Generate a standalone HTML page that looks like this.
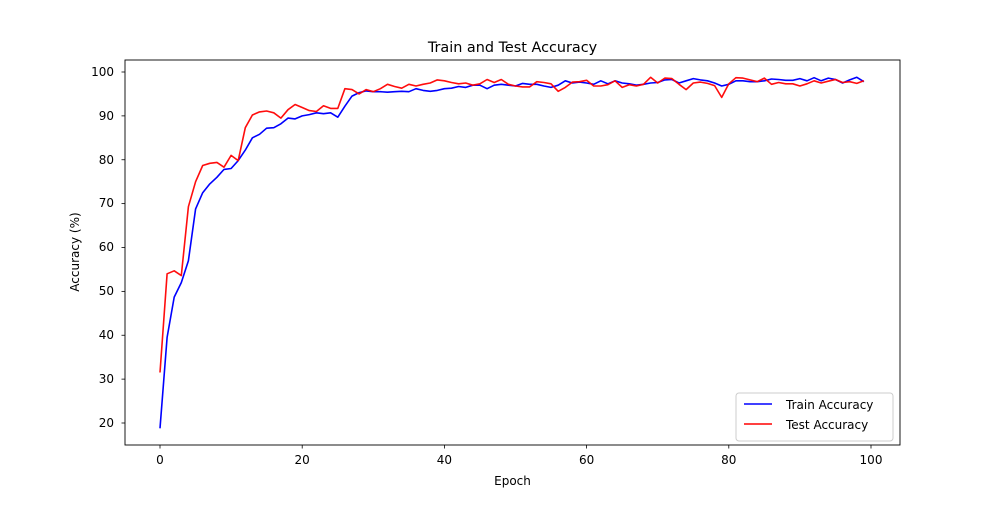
<!DOCTYPE html>
<html><head><meta charset="utf-8"><style>
html,body{margin:0;padding:0;background:#fff}
svg text{font-family:"DejaVu Sans","Liberation Sans",sans-serif;fill:#000}
</style></head><body>
<svg id="s" width="1000" height="500" xmlns="http://www.w3.org/2000/svg">
<rect width="1000" height="500" fill="#fff"/>
<text x="512.5" y="52" font-size="14.4" text-anchor="middle">Train and Test Accuracy</text>
<g id="ticks" font-size="12"></g>
<polyline id="tr" fill="none" stroke="#0000ff" stroke-width="1.6" stroke-linejoin="round"/>
<polyline id="te" fill="none" stroke="#ff0000" stroke-width="1.6" stroke-linejoin="round" opacity="0.95"/>
<rect x="125" y="60" width="775" height="385" fill="none" stroke="#000" stroke-width="0.9"/>
<text x="512.5" y="485" font-size="12" text-anchor="middle">Epoch</text>
<text transform="translate(79,252) rotate(-90)" font-size="12" text-anchor="middle">Accuracy (%)</text>
<g font-size="12">
<text x="160" y="464" text-anchor="middle">0</text>
<text x="302.2" y="464" text-anchor="middle">20</text>
<text x="444.4" y="464" text-anchor="middle">40</text>
<text x="586.6" y="464" text-anchor="middle">60</text>
<text x="728.8" y="464" text-anchor="middle">80</text>
<text x="871" y="464" text-anchor="middle">100</text>
<text x="114" y="427" text-anchor="end">20</text>
<text x="114" y="383" text-anchor="end">30</text>
<text x="114" y="339" text-anchor="end">40</text>
<text x="114" y="295" text-anchor="end">50</text>
<text x="114" y="251" text-anchor="end">60</text>
<text x="114" y="207" text-anchor="end">70</text>
<text x="114" y="164" text-anchor="end">80</text>
<text x="114" y="120" text-anchor="end">90</text>
<text x="114" y="76" text-anchor="end">100</text>
</g>
<rect x="736" y="393" width="157" height="48" rx="3" fill="#fff" fill-opacity="0.8" stroke="#ccc"/>
<line x1="744" y1="404" x2="772" y2="404" stroke="#0000ff" stroke-width="1.6"/>
<line x1="744" y1="424" x2="772" y2="424" stroke="#ff0000" stroke-width="1.6"/>
<text x="786" y="409" font-size="12">Train Accuracy</text>
<text x="786" y="429" font-size="12">Test Accuracy</text>
</svg>
<script>
var tr=[18.8,39.5,48.7,52,57,68.8,72.5,74.5,76,77.8,78,79.8,82.2,85,85.8,87.2,87.3,88.2,89.5,89.3,90,90.3,90.7,90.5,90.7,89.7,92.2,94.5,95.3,95.7,95.5,95.5,95.4,95.5,95.6,95.5,96.2,95.8,95.6,95.8,96.2,96.3,96.7,96.5,97,97,96.2,97,97.2,97,96.8,97.4,97.2,97.2,96.8,96.5,97,98,97.5,97.7,97.5,97.2,98,97.3,98,97.5,97.3,97,97.2,97.5,97.6,98.2,98.3,97.5,98,98.5,98.2,98,97.5,96.8,97.2,98,98,97.8,97.8,98,98.4,98.3,98.1,98.1,98.5,98,98.7,98,98.6,98.3,97.5,98.2,98.8,97.8];
var te=[31.5,54,54.7,53.6,69.3,75,78.7,79.2,79.4,78.3,81,79.8,87.3,90.2,90.9,91.1,90.7,89.5,91.4,92.6,91.9,91.2,91,92.3,91.7,91.7,96.2,96,95,96,95.5,96.2,97.2,96.7,96.3,97.2,96.8,97.2,97.5,98.2,98,97.6,97.3,97.5,97,97.3,98.3,97.6,98.3,97.2,96.8,96.6,96.6,97.8,97.6,97.3,95.6,96.5,97.7,97.8,98.1,96.8,96.8,97.1,98,96.5,97.1,96.8,97.2,98.8,97.5,98.6,98.5,97.2,96,97.5,97.7,97.4,96.9,94.2,97.3,98.7,98.6,98.2,97.8,98.6,97.2,97.6,97.3,97.3,96.8,97.3,98,97.5,97.9,98.3,97.6,97.8,97.4,98];
function X(i){return 160+i*7.11}function Y(v){return 423-(v-20)*4.3875}
function pts(a){return a.map(function(v,i){return X(i).toFixed(1)+","+Y(v).toFixed(1)}).join(" ")}
document.getElementById("tr").setAttribute("points",pts(tr));
document.getElementById("te").setAttribute("points",pts(te));
var g=document.getElementById("ticks"),h="";
for(var i=0;i<=100;i+=20)h+='<line x1="'+X(i)+'" y1="445" x2="'+X(i)+'" y2="448.5" stroke="#000" stroke-width="0.8"/>';
for(var v=20;v<=100;v+=10)h+='<line x1="121.5" y1="'+Y(v)+'" x2="125" y2="'+Y(v)+'" stroke="#000" stroke-width="0.8"/>';
g.innerHTML=h;
</script>
</body></html>
